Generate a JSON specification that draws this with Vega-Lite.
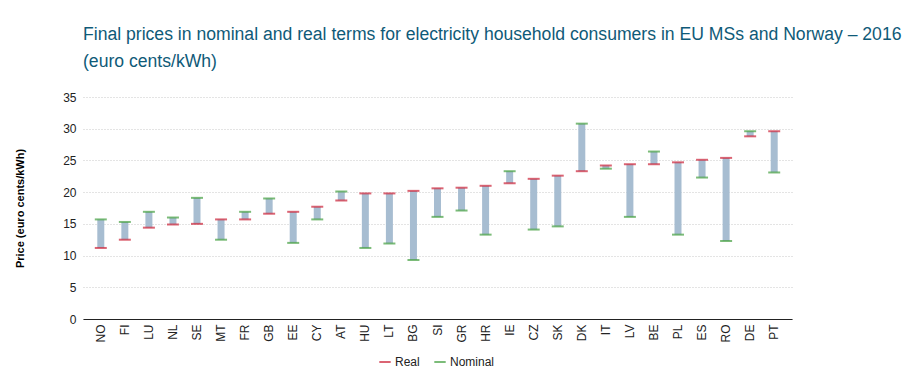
{
  "$schema": "https://vega.github.io/schema/vega-lite/v6.json",
  "autosize": "none",
  "width": 709,
  "height": 222,
  "padding": {"left": 83, "top": 97, "right": 126, "bottom": 61},
  "background": "white",
  "title": {
    "text": ["Final prices in nominal and real terms for electricity household consumers in EU MSs and Norway – 2016", "(euro cents/kWh)"],
    "anchor": "start",
    "frame": "group",
    "font": "Liberation Sans",
    "fontSize": 17.6,
    "fontWeight": "normal",
    "color": "#0f5a78",
    "lineHeight": 27,
    "offset": 20
  },
  "data": {
    "values": [
      {"country": "NO", "Real": 11.2, "Nominal": 15.7},
      {"country": "FI", "Real": 12.5, "Nominal": 15.3},
      {"country": "LU", "Real": 14.4, "Nominal": 16.9},
      {"country": "NL", "Real": 14.9, "Nominal": 16.0},
      {"country": "SE", "Real": 15.0, "Nominal": 19.1},
      {"country": "MT", "Real": 15.7, "Nominal": 12.5},
      {"country": "FR", "Real": 15.7, "Nominal": 16.9},
      {"country": "GB", "Real": 16.6, "Nominal": 19.0},
      {"country": "EE", "Real": 16.9, "Nominal": 12.0},
      {"country": "CY", "Real": 17.7, "Nominal": 15.7},
      {"country": "AT", "Real": 18.7, "Nominal": 20.1},
      {"country": "HU", "Real": 19.8, "Nominal": 11.2},
      {"country": "LT", "Real": 19.8, "Nominal": 11.9},
      {"country": "BG", "Real": 20.2, "Nominal": 9.3},
      {"country": "SI", "Real": 20.6, "Nominal": 16.1},
      {"country": "GR", "Real": 20.7, "Nominal": 17.1},
      {"country": "HR", "Real": 21.0, "Nominal": 13.3},
      {"country": "IE", "Real": 21.4, "Nominal": 23.3},
      {"country": "CZ", "Real": 22.1, "Nominal": 14.1},
      {"country": "SK", "Real": 22.6, "Nominal": 14.6},
      {"country": "DK", "Real": 23.3, "Nominal": 30.8},
      {"country": "IT", "Real": 24.2, "Nominal": 23.7},
      {"country": "LV", "Real": 24.4, "Nominal": 16.1},
      {"country": "BE", "Real": 24.4, "Nominal": 26.4},
      {"country": "PL", "Real": 24.7, "Nominal": 13.3},
      {"country": "ES", "Real": 25.1, "Nominal": 22.3},
      {"country": "RO", "Real": 25.4, "Nominal": 12.3},
      {"country": "DE", "Real": 28.8, "Nominal": 29.6},
      {"country": "PT", "Real": 29.6, "Nominal": 23.1}
    ]
  },
  "encoding": {
    "x": {
      "field": "country",
      "type": "nominal",
      "sort": null,
      "scale": {"paddingInner": 0, "paddingOuter": 0.24},
      "axis": {
        "title": null,
        "labelAngle": -90,
        "labelAlign": "right",
        "labelBaseline": "middle",
        "labelFont": "Liberation Sans",
        "labelFontSize": 12,
        "labelColor": "#222",
        "labelPadding": 5,
        "ticks": false,
        "domainColor": "#222",
        "domainWidth": 1.2,
        "grid": false
      }
    }
  },
  "layer": [
    {
      "mark": {"type": "bar", "size": 7, "color": "#a7bdd1"},
      "encoding": {
        "y": {
          "field": "Real",
          "type": "quantitative",
          "scale": {"domain": [0, 35], "nice": false},
          "axis": {
            "values": [0, 5, 10, 15, 20, 25, 30, 35],
            "labelOverlap": false,
            "title": "Price (euro cents/kWh)",
            "titleFont": "Liberation Sans",
            "titleFontSize": 11,
            "titleFontWeight": "bold",
            "titleColor": "#000",
            "titleX": -63,
            "titleY": 111,
            "titleAlign": "center",
            "titleBaseline": "middle",
            "labelFont": "Liberation Sans",
            "labelFontSize": 12,
            "labelColor": "#222",
            "labelPadding": 7,
            "domain": false,
            "ticks": false,
            "grid": true,
            "gridColor": "#c8c8c8",
            "gridDash": [1, 2],
            "gridWidth": 1
          }
        },
        "y2": {"field": "Nominal"}
      }
    },
    {
      "transform": [{"fold": ["Real", "Nominal"], "as": ["type", "value"]}],
      "mark": {"type": "tick", "size": 12, "thickness": 2},
      "encoding": {
        "y": {
          "field": "value",
          "type": "quantitative",
          "scale": {"domain": [0, 35], "nice": false},
          "axis": {
            "values": [0, 5, 10, 15, 20, 25, 30, 35],
            "labelOverlap": false,
            "title": "Price (euro cents/kWh)",
            "titleFont": "Liberation Sans",
            "titleFontSize": 11,
            "titleFontWeight": "bold",
            "titleColor": "#000",
            "titleX": -63,
            "titleY": 111,
            "titleAlign": "center",
            "titleBaseline": "middle",
            "labelFont": "Liberation Sans",
            "labelFontSize": 12,
            "labelColor": "#222",
            "labelPadding": 7,
            "domain": false,
            "ticks": false,
            "grid": true,
            "gridColor": "#c8c8c8",
            "gridDash": [1, 2],
            "gridWidth": 1
          }
        },
        "color": {
          "field": "type",
          "type": "nominal",
          "scale": {"domain": ["Real", "Nominal"], "range": ["#cc2238", "#45a040"]},
          "legend": {
            "title": null,
            "orient": "none",
            "direction": "horizontal",
            "legendX": 296,
            "legendY": 259,
            "symbolType": "M-1,-0.18H1V0.18H-1Z",
            "symbolSize": 130,
            "symbolStrokeWidth": 0,
            "labelFont": "Liberation Sans",
            "labelFontSize": 12,
            "labelColor": "#222",
            "columnPadding": 14
          }
        }
      }
    }
  ],
  "config": {"view": {"stroke": null}}
}
